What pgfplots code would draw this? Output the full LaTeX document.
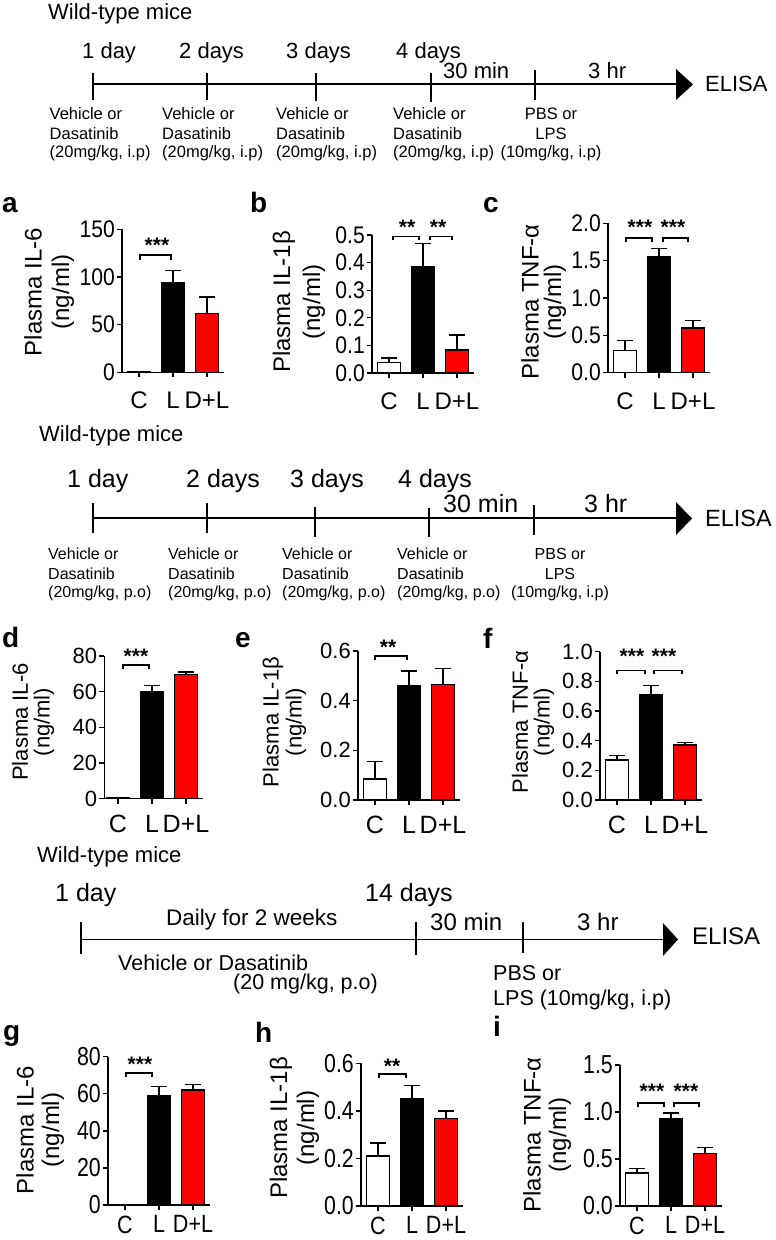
\documentclass[border=0pt]{standalone}
\usepackage{fontspec}
\setmainfont{Liberation Sans}
\newfontfamily\lsans{Liberation Sans}
\newfontfamily\lsansN[FakeStretch=0.88]{Liberation Sans}
\newfontfamily\lsansNN[FakeStretch=0.82]{Liberation Sans}
\newfontfamily\lsansC[FakeStretch=0.86]{Liberation Sans}
\usepackage{pgfplots}
\pgfplotsset{compat=1.18}
\newcommand{\fz}[1]{\fontsize{#1pt}{#1pt}\selectfont}

\pgfplotsset{
 prism/.style={
  scale only axis, width=102pt, xmin=0.5, xmax=3.5, ymin=0,
  axis x line*=bottom, axis y line*=left,
  axis line style={line width=1.3pt,-},
  tick style={line width=1.3pt, black},
  tick align=outside, major tick length=5pt,
  xtick pos=left, ytick pos=left,
  xtick={1,2,3}, xticklabels={C,L,D+L},
  clip=false, anchor=south west,
  xticklabel style={anchor=north, inner sep=0pt},
  yticklabel style={anchor=east, inner sep=0pt},
  yticklabel shift=2pt,
 },
 pbar/.style={ybar, bar shift=0pt, bar width=22.5pt, draw=black, line width=1.3pt,
   error bars/y dir=plus, error bars/y explicit,
   error bars/error bar style={line width=1.3pt, black, solid},
   error bars/error mark options={rotate=90, line width=1.3pt, mark size=8pt, black}},
 rowA/.style={yticklabel style={font=\lsansN\fz{24}}, xticklabel style={font=\lsans\fz{24}}, xticklabel shift=14.7pt},
 rowB/.style={yticklabel style={font=\lsans\fz{22}}, xticklabel style={font=\lsans\fz{25}}, xticklabel shift=11pt},
 rowC/.style={yticklabel style={font=\lsansNN\fz{26}}, xticklabel style={font=\lsansC\fz{25}}, xticklabel shift=5.5pt},
}

\begin{document}
\begin{tikzpicture}
\begin{scope}[x=1pt,y=-1pt]
\path[use as bounding box] (0,0) rectangle (776,1240);

% ---------------- timeline 1
\node[anchor=base west, inner sep=0pt, font=\lsans\fz{22}] at (48,19) {Wild-type mice};
\draw[line width=1.3pt] (93,84) -- (677,84);
\fill (676,69) -- (693,84.5) -- (676,100) -- cycle;
\foreach \x/\a/\b in {93/73/100, 207/73/100, 316/73/101, 431/73/102, 535/70/100}
  \draw[line width=1.3pt] (\x,\a) -- (\x,\b);
\begin{scope}[every node/.style={anchor=base west, inner sep=0pt, font=\lsans\fz{22}}]
\node at (82,58) {1 day};
\node at (179,58) {2 days};
\node at (286,58) {3 days};
\node at (396,58) {4 days};
\node at (443,78) {30 min};
\node at (588,78) {3 hr};
\node[anchor=west] at (705,84) {ELISA};
\end{scope}
\begin{scope}[every node/.style={anchor=base west, inner sep=0pt, font=\lsans\fz{16.5}}]
\foreach \x in {49.5,162,276,393}{
 \node at (\x,119) {Vehicle or};
 \node at (\x,139) {Dasatinib};
 \node at (\x,157) {(20mg/kg, i.p)};
}
\node[anchor=base] at (551,119) {PBS or};
\node[anchor=base] at (551,139) {LPS};
\node[anchor=base] at (551,157) {(10mg/kg, i.p)};
\end{scope}

% ---------------- timeline 2
\node[anchor=base west, inner sep=0pt, font=\lsans\fz{22}] at (39,441) {Wild-type mice};
\draw[line width=1.3pt] (93,518) -- (677,518);
\fill (676,502) -- (692,518.5) -- (676,535) -- cycle;
\foreach \x/\a/\b in {93/503/533, 207/503/533, 315/507/537, 429/508/537, 534/505/535}
  \draw[line width=1.3pt] (\x,\a) -- (\x,\b);
\begin{scope}[every node/.style={anchor=base west, inner sep=0pt, font=\lsans\fz{25}}]
\node at (67,487) {1 day};
\node at (186,487) {2 days};
\node at (290,487) {3 days};
\node at (398,487) {4 days};
\node at (443,512) {30 min};
\node at (584,512) {3 hr};
\node[anchor=west, font=\lsans\fz{23.5}] at (705,518) {ELISA};
\end{scope}
\begin{scope}[every node/.style={anchor=base west, inner sep=0pt, font=\lsans\fz{16}}]
\foreach \x in {48,168,282,397}{
 \node at (\x,559) {Vehicle or};
 \node at (\x,579) {Dasatinib};
 \node at (\x,597) {(20mg/kg, p.o)};
}
\node[anchor=base] at (560,559) {PBS or};
\node[anchor=base] at (560,579) {LPS};
\node[anchor=base] at (560,597) {(10mg/kg, i.p)};
\end{scope}

% ---------------- timeline 3
\node[anchor=base west, inner sep=0pt, font=\lsans\fz{22}] at (37,862) {Wild-type mice};
\draw[line width=1.3pt] (81,939.5) -- (664,939.5);
\fill (663,923) -- (678,939.5) -- (663,956) -- cycle;
\foreach \x/\a/\b in {81/922/954, 416/922/955, 523/922/953}
  \draw[line width=1.3pt] (\x,\a) -- (\x,\b);
\begin{scope}[every node/.style={anchor=base west, inner sep=0pt, font=\lsans\fz{25}}]
\node at (55,901) {1 day};
\node at (365,901) {14 days};
\node[font=\lsans\fz{22.5}] at (166,925) {Daily for 2 weeks};
\node[font=\lsans\fz{24}] at (430,930) {30 min};
\node[font=\lsans\fz{24}] at (577,930) {3 hr};
\node[anchor=west, font=\lsans\fz{24}] at (692,936) {ELISA};
\end{scope}
\begin{scope}[every node/.style={anchor=base west, inner sep=0pt, font=\lsans\fz{21.5}}]
\node at (118,970) {Vehicle or Dasatinib};
\node[anchor=base east] at (378,989) {(20 mg/kg, p.o)};
\node at (493,980) {PBS or};
\node at (493,1005) {LPS (10mg/kg, i.p)};
\end{scope}

% ---------------- panel letters
\begin{scope}[every node/.style={anchor=base west, inner sep=0pt, font=\lsans\bfseries\fz{28}}]
\node at (2,212) {a};
\node at (250,212) {b};
\node at (483,212) {c};
\node at (2,647) {d};
\node at (235,647) {e};
\node at (483,648) {f};
\node at (3,1040) {g};
\node at (255,1042) {h};
\node at (493,1036) {i};
\end{scope}

% ---------------- y labels
\begin{scope}[every node/.style={rotate=90, inner sep=0pt, font=\lsans\fz{24}}]
\node at (33,292) {Plasma IL-6};
\node at (63,292) {(ng/ml)};
\node at (284,302) {Plasma IL-1β};
\node at (314,302) {(ng/ml)};
\node at (530,302) {Plasma TNF-α};
\node at (555,302) {(ng/ml)};
\node[font=\lsans\fz{22}] at (20,722) {Plasma IL-6};
\node[font=\lsans\fz{22}] at (44,722) {(ng/ml)};
\node[font=\lsans\fz{22}] at (273,722) {Plasma IL-1β};
\node[font=\lsans\fz{22}] at (296,722) {(ng/ml)};
\node[font=\lsans\fz{22}] at (520,722) {Plasma TNF-α};
\node[font=\lsans\fz{22}] at (544,722) {(ng/ml)};
\node at (25,1130) {Plasma IL-6};
\node at (53,1130) {(ng/ml)};
\node at (281,1128) {Plasma IL-1β};
\node at (308,1128) {(ng/ml)};
\node at (532,1135) {Plasma TNF-α};
\node at (560,1135) {(ng/ml)};
\end{scope}

% ---------------- significance brackets and stars
\begin{scope}[line width=1.1pt]
\draw (140,260) -- (140,255) -- (171,255) -- (171,260);
\draw (393,240) -- (393,236.5) -- (419,236.5) -- (419,240);
\draw (430,240) -- (430,236.5) -- (452,236.5) -- (452,240);
\draw (626,242) -- (626,238) -- (652,238) -- (652,242);
\draw (663,242) -- (663,238) -- (688,238) -- (688,242);
\draw (123,669) -- (123,665) -- (149,665) -- (149,669);
\draw (375,660) -- (375,656) -- (407,656) -- (407,660);
\draw (617,674) -- (617,670.5) -- (645,670.5) -- (645,674);
\draw (654,674) -- (654,670.5) -- (682,670.5) -- (682,674);
\draw (126,1077) -- (126,1073) -- (152,1073) -- (152,1077);
\draw (379,1078) -- (379,1074) -- (406,1074) -- (406,1078);
\draw (638,1107) -- (638,1103) -- (664,1103) -- (664,1107);
\draw (674,1107) -- (674,1103) -- (699,1103) -- (699,1107);
\end{scope}
\begin{scope}[every node/.style={inner sep=0pt, font=\lsans\bfseries\fz{21}}]
\node at (157,245.5) {***};
\node at (407,227.5) {**};
\node at (438,227.5) {**};
\node at (640,227.5) {***};
\node at (673,227.5) {***};
\node at (136,656.5) {***};
\node at (388,647.5) {**};
\node at (632,656.5) {***};
\node at (664,656.5) {***};
\node at (140,1064.5) {***};
\node at (392,1066.5) {**};
\node at (652,1091.5) {***};
\node at (686,1091.5) {***};
\end{scope}
\end{scope}

% ================= row 1
\begin{axis}[prism, rowA, at={(122pt,-372.3pt)}, height=143pt, ymax=150,
  ytick={0,50,100,150}, yticklabels={0,50,100,150}]
\addplot[pbar, fill=white] coordinates {(1,0.6) +- (0,0)};
\addplot[pbar, fill=black] coordinates {(2,94) +- (0,12.5)};
\addplot[pbar, fill=red] coordinates {(3,62) +- (0,17)};
\end{axis}

\begin{axis}[prism, rowA, at={(372pt,-373pt)}, height=138pt, ymax=0.5,
  ytick={0,0.1,0.2,0.3,0.4,0.5}, yticklabels={0.0,0.1,0.2,0.3,0.4,0.5}]
\addplot[pbar, fill=white] coordinates {(1,0.038) +- (0,0.016)};
\addplot[pbar, fill=black] coordinates {(2,0.385) +- (0,0.085)};
\addplot[pbar, fill=red] coordinates {(3,0.083) +- (0,0.055)};
\end{axis}

\begin{axis}[prism, rowA, at={(608pt,-372.7pt)}, height=149.4pt, ymax=2,
  ytick={0,0.5,1,1.5,2}, yticklabels={0.0,0.5,1.0,1.5,2.0}]
\addplot[pbar, fill=white] coordinates {(1,0.30) +- (0,0.13)};
\addplot[pbar, fill=black] coordinates {(2,1.56) +- (0,0.10)};
\addplot[pbar, fill=red] coordinates {(3,0.60) +- (0,0.10)};
\end{axis}

% ================= row 2
\begin{axis}[prism, rowB, at={(104.4pt,-798.7pt)}, xmin=0.6, width=98.6pt, height=142.7pt, ymax=80,
  ytick={0,20,40,60,80}, yticklabels={0,20,40,60,80}]
\addplot[pbar, fill=white] coordinates {(1,0.4) +- (0,0)};
\addplot[pbar, fill=black] coordinates {(2,60) +- (0,3.5)};
\addplot[pbar, fill=red] coordinates {(3,69.5) +- (0,1.5)};
\end{axis}

\begin{axis}[prism, rowB, at={(358pt,-800pt)}, height=149pt, ymax=0.6,
  ytick={0,0.2,0.4,0.6}, yticklabels={0.0,0.2,0.4,0.6}]
\addplot[pbar, fill=white] coordinates {(1,0.085) +- (0,0.07)};
\addplot[pbar, fill=black] coordinates {(2,0.46) +- (0,0.06)};
\addplot[pbar, fill=red] coordinates {(3,0.465) +- (0,0.065)};
\end{axis}

\begin{axis}[prism, rowB, at={(600pt,-800pt)}, height=148.3pt, ymax=1,
  ytick={0,0.2,0.4,0.6,0.8,1}, yticklabels={0.0,0.2,0.4,0.6,0.8,1.0}]
\addplot[pbar, fill=white] coordinates {(1,0.27) +- (0,0.03)};
\addplot[pbar, fill=black] coordinates {(2,0.71) +- (0,0.06)};
\addplot[pbar, fill=red] coordinates {(3,0.37) +- (0,0.02)};
\end{axis}

% ================= row 3
\begin{axis}[prism, rowC, at={(108pt,-1205pt)}, height=148.3pt, ymax=80,
  ytick={0,20,40,60,80}, yticklabels={0,20,40,60,80}]
\addplot[pbar, fill=white] coordinates {(1,0.4) +- (0,0)};
\addplot[pbar, fill=black] coordinates {(2,59) +- (0,5)};
\addplot[pbar, fill=red] coordinates {(3,62) +- (0,3)};
\end{axis}

\begin{axis}[prism, rowC, at={(361pt,-1206pt)}, height=142.7pt, ymax=0.6,
  ytick={0,0.2,0.4,0.6}, yticklabels={0.0,0.2,0.4,0.6}]
\addplot[pbar, fill=white] coordinates {(1,0.21) +- (0,0.055)};
\addplot[pbar, fill=black] coordinates {(2,0.45) +- (0,0.057)};
\addplot[pbar, fill=red] coordinates {(3,0.367) +- (0,0.032)};
\end{axis}

\begin{axis}[prism, rowC, at={(620pt,-1206pt)}, height=141pt, ymax=1.5,
  ytick={0,0.5,1,1.5}, yticklabels={0.0,0.5,1.0,1.5}]
\addplot[pbar, fill=white] coordinates {(1,0.35) +- (0,0.05)};
\addplot[pbar, fill=black] coordinates {(2,0.93) +- (0,0.06)};
\addplot[pbar, fill=red] coordinates {(3,0.56) +- (0,0.065)};
\end{axis}
\end{tikzpicture}
\end{document}
